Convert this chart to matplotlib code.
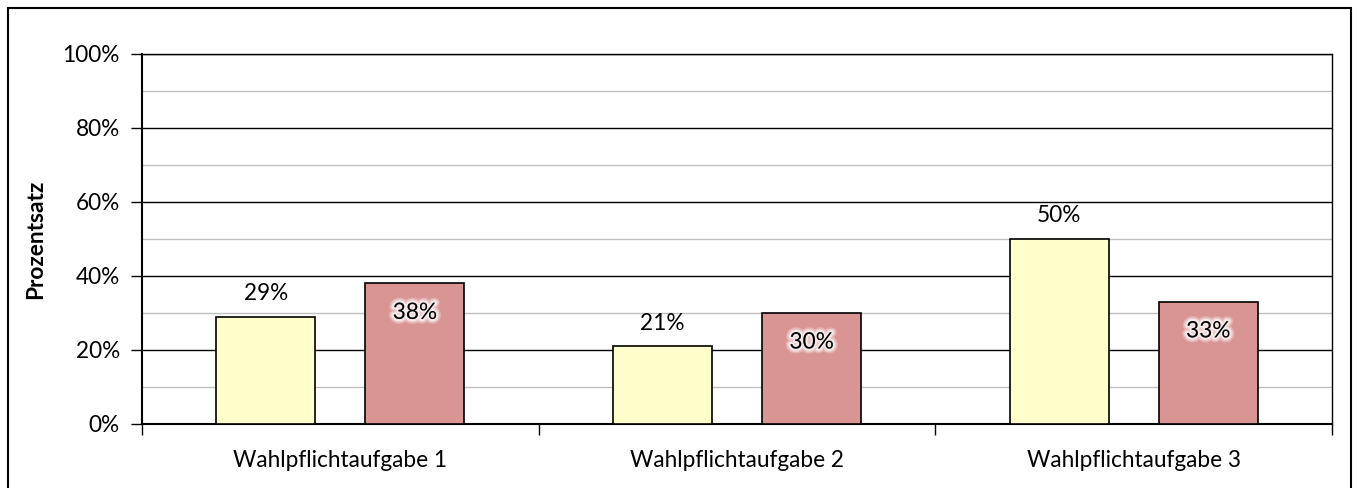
import matplotlib
matplotlib.use('Agg')
import matplotlib.pyplot as plt
import matplotlib.patheffects as pe
from matplotlib.patches import Rectangle
import numpy as np

# ── Data ─────────────────────────────────────────────────────────────────────
categories = ['Wahlpflichtaufgabe 1', 'Wahlpflichtaufgabe 2', 'Wahlpflichtaufgabe 3']
series_a = [29, 21, 50]   # yellow
series_b = [38, 30, 33]   # red

plt.rcParams['font.family'] = ['Lato', 'DejaVu Sans']
FS = 16.3

fig = plt.figure(figsize=(13.57, 4.88), dpi=100)
W, H = 1357, 488
ax = fig.add_axes([142 / W, 1 - 424 / H, (1332 - 142) / W, (424 - 54) / H])

# outer chart border (bottom edge falls outside the image)
fig.patches.append(Rectangle((8 / W, -0.05), (1351 - 8) / W, 1 - 8 / H + 0.05,
                             transform=fig.transFigure, fill=False,
                             edgecolor='black', linewidth=1.5))

x = np.arange(len(categories))
bw = 0.25
off = 0.188

ax.bar(x - off, series_a, bw, color='#FFFFCC', edgecolor='black', linewidth=1.2, zorder=3)
ax.bar(x + off, series_b, bw, color='#D99594', edgecolor='black', linewidth=1.2, zorder=3)

# soft white glow behind the labels inside the red bars (stroke only, text drawn once)
glow = [pe.Stroke(linewidth=w, foreground='white', alpha=a)
        for w, a in [(7, 0.25), (5, 0.35), (3, 0.6)]] + [pe.Normal()]

for xi, v in zip(x, series_a):
    ax.text(xi - off, v + 3.4, f'{v}%', ha='center', va='bottom', fontsize=FS, zorder=4)
for xi, v in zip(x, series_b):
    ax.text(xi + off, v - 5.0, f'{v}%', ha='center', va='top', fontsize=FS, zorder=4,
            path_effects=glow)

ax.set_xlim(-0.5, 2.5)
ax.set_ylim(0, 100)
ax.set_yticks(np.arange(0, 101, 20))
ax.set_yticklabels([f'{t}%' for t in range(0, 101, 20)], fontsize=FS)
ax.set_yticks(np.arange(10, 100, 20), minor=True)
ax.grid(axis='y', which='major', color='black', linewidth=1.0, zorder=0)
ax.grid(axis='y', which='minor', color='#BFBFBF', linewidth=1.0, zorder=0)
ax.tick_params(axis='y', which='minor', length=0)
ax.tick_params(axis='y', which='major', length=8, width=1.0, pad=8)

ax.set_xticks([-0.5, 0.5, 1.5, 2.5])
ax.set_xticklabels([])
ax.set_xticks(x, minor=True)
ax.set_xticklabels(categories, minor=True, fontsize=FS)
ax.tick_params(axis='x', which='minor', length=0, pad=19)
ax.tick_params(axis='x', which='major', length=8, width=1.0)

for s in ax.spines.values():
    s.set_linewidth(1.0)
ax.spines['bottom'].set_linewidth(1.5)
ax.spines['left'].set_linewidth(1.5)

ax.set_ylabel('Prozentsatz', fontsize=FS, fontweight='bold', labelpad=12)

plt.savefig('out.png', dpi=100)
